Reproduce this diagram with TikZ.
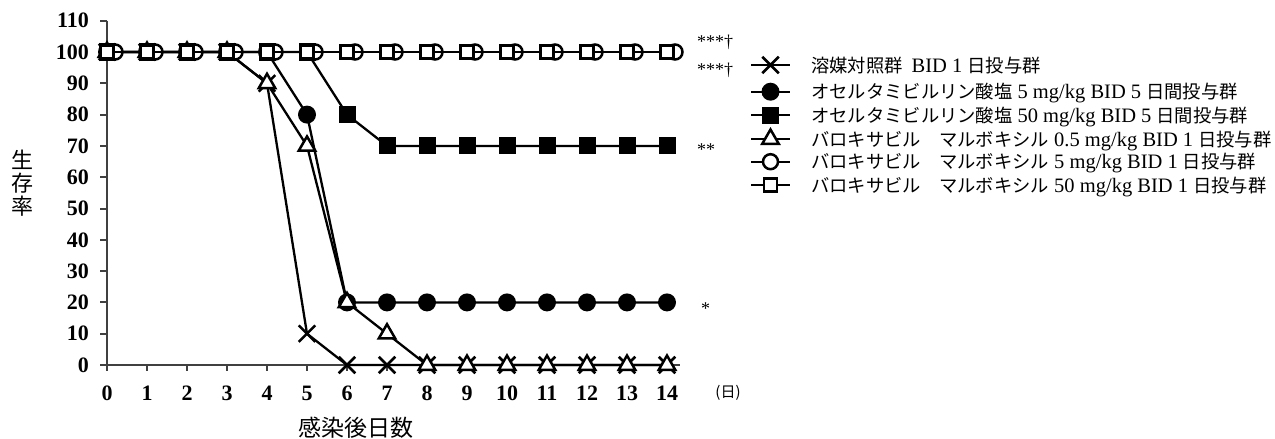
\documentclass[tikz,border=0pt]{standalone}
\usepackage{fontspec}
\setmainfont{Liberation Serif}
\newfontfamily\jp{Noto Sans CJK JP}
\usetikzlibrary{shapes.geometric,shapes.misc}
\newcommand\J[1]{{\jp\fontsize{18.3}{18.3}\selectfont #1}}
\newcommand\oneseries[5]{% name, marker style, x offset, values, dummy
  \foreach \v [count=\i from 0] in {#4} {\coordinate (#1-\i) at (\i+#3,\v);}
  \draw[ser] (#1-0) \foreach \i in {1,...,14} {-- (#1-\i)};
  \foreach \i in {0,...,14} {\node[#2] (m#1-\i) at (#1-\i) {};}
}
\begin{document}
\begin{tikzpicture}[x=1pt,y=-1pt,
  ser/.style={line width=2.3pt, black},
  axisln/.style={line width=2pt, black!75},
  mX/.style={cross out, draw, line width=2.5pt, minimum size=14pt, inner sep=0pt},
  mFC/.style={circle, fill=black, minimum size=18pt, inner sep=0pt},
  mFS/.style={rectangle, fill=black, minimum size=17pt, inner sep=0pt},
  mT/.style={regular polygon, regular polygon sides=3, draw, fill=white, line width=2.5pt, minimum size=19pt, inner sep=0pt},
  mOC/.style={circle, draw, fill=white, line width=2.5pt, minimum size=15pt, inner sep=0pt},
  mOS/.style={rectangle, draw, fill=white, line width=2.5pt, minimum size=13pt, inner sep=0pt},
  ticklab/.style={font=\bfseries\fontsize{22}{22}\selectfont, inner sep=0pt},
  leg/.style={anchor=base west, inner sep=0pt, font=\fontsize{20.5}{20.5}\selectfont},
  star/.style={anchor=base west, inner sep=0pt, font=\fontsize{18}{18}\selectfont},
]
\useasboundingbox (0,0) rectangle (1275,439);
% axes
\coordinate (ytop) at (107,20.7);
\coordinate (orig) at (107,365);
\coordinate (xend) at (680,365);
\draw[axisln] (ytop) -- (orig) -- (xend);
\foreach \v in {0,10,...,110} {
  \coordinate (yt\v) at (107,{365-3.13*\v});
  \coordinate (yl\v) at (100,{365-3.13*\v});
  \draw[axisln] (yt\v) -- (yl\v);
  \node[ticklab, anchor=east] (ylab\v) at (89,{365-3.13*\v}) {\v};
}
\foreach \d in {0,...,14} {
  \coordinate (xt\d) at ({107+40*\d},365);
  \coordinate (xl\d) at ({107+40*\d},371);
  \draw[axisln] (xt\d) -- (xl\d);
  \node[ticklab] (xlab\d) at ({107+40*\d},393) {\d};
}
\node[font=\jp\fontsize{15}{15}\selectfont, inner sep=0pt] (unit) at (728,393) {(日)};
\node[font=\jp\fontsize{23}{23}\selectfont, inner sep=0pt] (xtitle) at (356,428) {感染後日数};
\node[font=\jp\fontsize{22}{23}\selectfont, inner sep=0pt, align=center] (ytitle) at (22,183) {生\\存\\率};
% data
\begin{scope}[shift={(107,365)}, x=40pt, y=3.13pt]
\oneseries{A}{mX}{0}{100,100,100,100,90,10,0,0,0,0,0,0,0,0,0}{}
\oneseries{B}{mFC}{0}{100,100,100,100,100,80,20,20,20,20,20,20,20,20,20}{}
\oneseries{C}{mFS}{0}{100,100,100,100,100,100,80,70,70,70,70,70,70,70,70}{}
\oneseries{D}{mT}{0}{100,100,100,100,90,70,20,10,0,0,0,0,0,0,0}{}
\oneseries{E}{mOC}{0.2}{100,100,100,100,100,100,100,100,100,100,100,100,100,100,100}{}
\oneseries{F}{mOS}{0}{100,100,100,100,100,100,100,100,100,100,100,100,100,100,100}{}
\end{scope}
% significance marks
\node[star] (s1) at (697,47) {***†};
\node[star] (s2) at (697,75) {***†};
\node[star] (s3) at (697,155) {**};
\node[star] (s4) at (701,314) {*};
% legend
\foreach \k/\st/\yy in {1/mX/65, 2/mFC/91.7, 3/mFS/115, 4/mT/139, 5/mOC/161.7, 6/mOS/185} {
  \coordinate (la\k) at (751,\yy);
  \coordinate (lb\k) at (790,\yy);
  \draw[ser] (la\k) -- (lb\k);
  \node[\st] (lm\k) at (770.5,\yy) {};
}
\node[leg] (t1) at (811,72) {\J{溶媒対照群}\hspace{9pt}BID 1 \J{日投与群}};
\node[leg] (t2) at (811,98.7) {\J{オセルタミビルリン酸塩} 5 mg/kg BID 5 \J{日間投与群}};
\node[leg] (t3) at (811,122) {\J{オセルタミビルリン酸塩} 50 mg/kg BID 5 \J{日間投与群}};
\node[leg] (t4) at (811,146) {\J{バロキサビル　マルボキシル} 0.5 mg/kg BID 1 \J{日投与群}};
\node[leg] (t5) at (811,168.7) {\J{バロキサビル　マルボキシル} 5 mg/kg BID 1 \J{日投与群}};
\node[leg] (t6) at (811,192) {\J{バロキサビル　マルボキシル} 50 mg/kg BID 1 \J{日投与群}};
\end{tikzpicture}
\end{document}
